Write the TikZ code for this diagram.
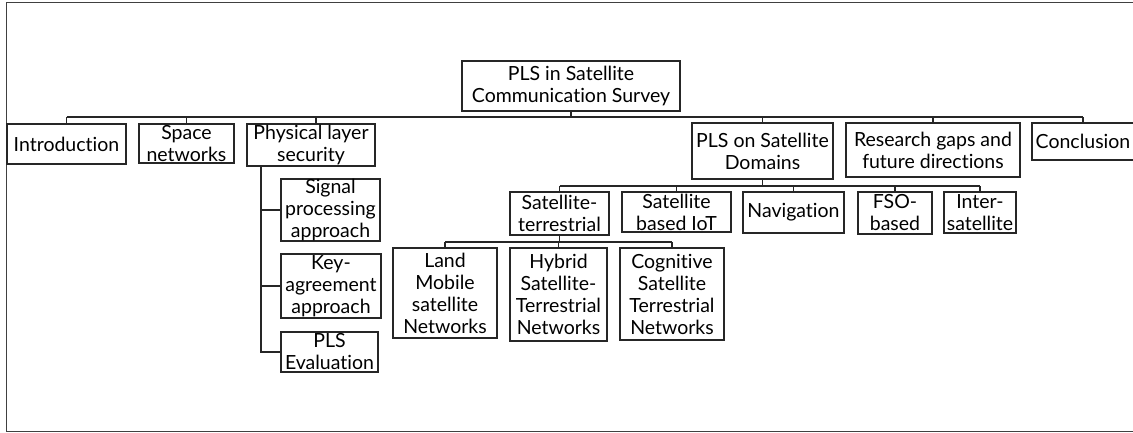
\documentclass[tikz,border=0pt]{standalone}
\usepackage{fontspec}
\setmainfont{Lato}[Ligatures=NoCommon]
\begin{document}
\begin{tikzpicture}[x=1pt,y=-1pt,
  box/.style={draw=black!85, line width=1.1pt, inner sep=0pt, align=center,
    font=\fontsize{19.5}{22}\selectfont, text=black},
  link/.style={draw=black!85, line width=1.1pt},
  frame/.style={draw=black!75, line width=1pt}]
\useasboundingbox (0,0) rectangle (1133,432);
\draw[frame] (1140,2.5) -- (6.5,2.5) -- (6.5,431) -- (1140,431);
% level 0
\node[box, minimum width=218pt, minimum height=50pt] (root) at (571,86) {PLS in Satellite\\Communication Survey};
% level 1
\node[box, minimum width=119pt, minimum height=40pt] (intro) at (66.5,144) {Introduction};
\node[box, minimum width=95pt, minimum height=39pt] (space) at (186.5,143.5) {Space\\networks};
\node[box, minimum width=128pt, minimum height=42pt] (phys) at (311,145) {Physical layer\\security};
\node[box, minimum width=141pt, minimum height=56pt] (dom) at (762.5,151) {PLS on Satellite\\Domains};
\node[box, minimum width=174pt, minimum height=54pt] (gaps) at (933,150) {Research gaps and\\future directions};
\node[box, minimum width=102pt, minimum height=37pt] (concl) at (1083,141.5) {Conclusion};
% physical layer children
\node[box, minimum width=99pt, minimum height=62pt] (sig) at (330.5,210) {Signal\\processing\\approach};
\node[box, minimum width=100pt, minimum height=64pt] (key) at (331,286) {Key-\\agreement\\approach};
\node[box, minimum width=97pt, minimum height=40pt] (eval) at (329.5,352) {PLS\\Evaluation};
% domain children
\node[box, minimum width=99pt, minimum height=43pt] (st) at (559.5,213.5) {Satellite-\\terrestrial};
\node[box, minimum width=109pt, minimum height=40pt] (iot) at (676.5,212) {Satellite\\based IoT};
\node[box, minimum width=101pt, minimum height=41pt] (nav) at (793.5,212.5) {Navigation};
\node[box, minimum width=74pt, minimum height=42pt] (fso) at (895,213) {FSO-\\based};
\node[box, minimum width=72pt, minimum height=41pt] (inter) at (980,212.5) {Inter-\\satellite};
% satellite-terrestrial children
\node[box, minimum width=104pt, minimum height=90pt] (land) at (445,293) {Land\\Mobile\\satellite\\Networks};
\node[box, minimum width=97pt, minimum height=93pt] (hyb) at (558.5,294.5) {Hybrid\\Satellite-\\Terrestrial\\Networks};
\node[box, minimum width=104pt, minimum height=92pt] (cog) at (672,294) {Cognitive\\Satellite\\Terrestrial\\Networks};
% buses
\coordinate (bus) at (0,117);
\coordinate (bus2) at (0,186);
\coordinate (bus3) at (0,242);
\coordinate (physdrop) at (316,0);
\coordinate (physline) at (261,0);
% root connectors
\draw[link] (root.south) -- (root.south |- bus);
\draw[link] (bus -| intro.north) -- (bus -| concl.north);
\draw[link] (bus -| intro.north) -- (intro.north);
\draw[link] (bus -| space.north) -- (space.north);
\draw[link] (bus -| physdrop) -- (physdrop |- phys.north);
\draw[link] (bus -| dom.north) -- (dom.north);
\draw[link] (bus -| gaps.north) -- (gaps.north);
\draw[link] (bus -| concl.north) -- (concl.north);
% physical layer connectors
\draw[link] (physline |- phys.south) -- (physline |- eval.west) -- (eval.west);
\draw[link] (physline |- sig.west) -- (sig.west);
\draw[link] (physline |- key.west) -- (key.west);
% domain connectors
\draw[link] (dom.south) -- (dom.south |- bus2);
\draw[link] (bus2 -| st.north) -- (bus2 -| inter.north);
\draw[link] (bus2 -| st.north) -- (st.north);
\draw[link] (bus2 -| iot.north) -- (iot.north);
\draw[link] (bus2 -| nav.north) -- (nav.north);
\draw[link] (bus2 -| fso.north) -- (fso.north);
\draw[link] (bus2 -| inter.north) -- (inter.north);
% satellite-terrestrial connectors
\draw[link] (st.south) -- (st.south |- bus3);
\draw[link] (bus3 -| land.north) -- (bus3 -| cog.north);
\draw[link] (bus3 -| land.north) -- (land.north);
\draw[link] (bus3 -| hyb.north) -- (hyb.north);
\draw[link] (bus3 -| cog.north) -- (cog.north);
\end{tikzpicture}
\end{document}
